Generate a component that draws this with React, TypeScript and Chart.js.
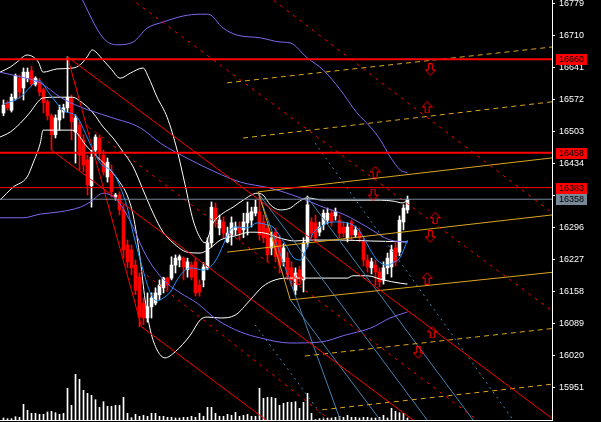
import React, { useEffect, useRef } from 'react';
import { Chart, registerables } from 'chart.js';
Chart.register(...registerables);

// ---- candles (index 0..101) ----
const candleOpen = [
  16544, 16566, 16550, 16576, 16619, 16598, 16619, 16635, 16606, 16611,
  16594, 16568, 16538, 16497, 16529, 16546, 16555, 16576, 16503, 16518,
  16486, 16443, 16387, 16464, 16490, 16453, 16406, 16417, 16363, 16367,
  16335, 16259, 16249, 16216, 16190, 16134, 16102, 16126, 16134, 16152,
  16167, 16188, 16188, 16216, 16227, 16231, 16206, 16216, 16223, 16173,
  16184, 16210, 16264, 16339, 16296, 16309, 16266, 16281, 16292, 16298,
  16292, 16307, 16313, 16328, 16331, 16309, 16296, 16253, 16287, 16270,
  16223, 16231, 16210, 16162, 16206, 16184, 16264, 16309, 16307, 16287,
  16303, 16313, 16328, 16322, 16313, 16298, 16275, 16309, 16281, 16287,
  16266, 16227, 16210, 16216, 16201, 16184, 16210, 16212, 16253, 16244,
  16309, 16335,
];
const candleHigh = [
  16572, 16570, 16585, 16628, 16626, 16641, 16641, 16645, 16622, 16619,
  16598, 16572, 16542, 16540, 16561, 16563, 16665, 16583, 16540, 16525,
  16497, 16453, 16464, 16497, 16497, 16464, 16447, 16432, 16371, 16374,
  16346, 16270, 16259, 16227, 16199, 16145, 16156, 16156, 16167, 16184,
  16190, 16190, 16234, 16238, 16238, 16234, 16231, 16223, 16231, 16184,
  16221, 16275, 16352, 16350, 16324, 16320, 16298, 16320, 16309, 16309,
  16328, 16352, 16341, 16356, 16367, 16324, 16303, 16287, 16296, 16279,
  16262, 16244, 16223, 16210, 16214, 16275, 16365, 16318, 16324, 16309,
  16335, 16339, 16335, 16339, 16324, 16309, 16307, 16313, 16300, 16296,
  16275, 16238, 16231, 16227, 16210, 16223, 16242, 16259, 16264, 16322,
  16346, 16365,
];
const candleLow = [
  16538, 16550, 16546, 16572, 16576, 16572, 16611, 16602, 16602, 16581,
  16544, 16529, 16464, 16490, 16507, 16533, 16546, 16486, 16436, 16421,
  16417, 16367, 16341, 16453, 16443, 16410, 16395, 16363, 16356, 16324,
  16231, 16210, 16195, 16152, 16083, 16087, 16093, 16102, 16130, 16141,
  16156, 16162, 16184, 16199, 16212, 16184, 16190, 16184, 16149, 16149,
  16169, 16206, 16255, 16298, 16281, 16275, 16264, 16259, 16281, 16270,
  16275, 16281, 16298, 16322, 16270, 16264, 16223, 16238, 16223, 16199,
  16214, 16184, 16173, 16152, 16180, 16158, 16255, 16275, 16266, 16279,
  16292, 16305, 16300, 16313, 16275, 16277, 16266, 16270, 16275, 16266,
  16214, 16201, 16197, 16173, 16169, 16175, 16197, 16190, 16214, 16236,
  16292, 16328,
];
const candleClose = [
  16561, 16555, 16578, 16624, 16589, 16632, 16632, 16606, 16619, 16589,
  16566, 16538, 16497, 16533, 16550, 16555, 16578, 16525, 16533, 16453,
  16432, 16389, 16449, 16492, 16458, 16417, 16438, 16374, 16367, 16335,
  16249, 16223, 16210, 16162, 16104, 16102, 16126, 16145, 16156, 16173,
  16188, 16173, 16216, 16231, 16234, 16212, 16223, 16190, 16156, 16158,
  16212, 16264, 16341, 16313, 16313, 16285, 16285, 16307, 16298, 16285,
  16309, 16328, 16331, 16341, 16281, 16275, 16238, 16275, 16234, 16216,
  16253, 16195, 16184, 16199, 16188, 16264, 16346, 16285, 16275, 16298,
  16328, 16328, 16309, 16331, 16285, 16285, 16298, 16281, 16292, 16275,
  16227, 16212, 16223, 16201, 16180, 16210, 16231, 16249, 16223, 16313,
  16339, 16358,
];
const volumes = [
  200, 130, 130, 330, 270, 1570, 970, 670, 670, 570,
  570, 800, 870, 730, 570, 670, 3170, 1470, 4570, 4070,
  2970, 2670, 2470, 2030, 1270, 1830, 1370, 1370, 1470, 1470,
  2270, 670, 230, 570, 370, 470, 370, 670, 670, 370,
  370, 270, 270, 200, 200, 270, 270, 370, 270, 670,
  370, 1270, 1270, 670, 370, 370, 570, 470, 770, 370,
  470, 570, 370, 370, 3170, 2170, 2270, 2270, 2170, 1470,
  1670, 1770, 1770, 1830, 1170, 1770, 2670, 670, 50, 130,
  130, 200, 200, 270, 370, 270, 470, 270, 270, 200,
  270, 270, 200, 200, 270, 470, 200, 1170, 870, 730,
  670, 200,
];

// ---- price axis ----
const priceTicks = [15951, 16020, 16089, 16158, 16227, 16296, 16365, 16434, 16503, 16572, 16641, 16710, 16779];
const redLevels = [16660, 16458, 16383];
const bidPrice = 16358;

// ---- indicator curves [index, price] ----
const maFast = [
  [0, 16563], [4.2, 16578], [6.7, 16600], [8.7, 16615], [11.7, 16583], [14.9, 16550], [18.4, 16535],
  [20.9, 16492], [22.4, 16464], [24.2, 16436], [27.4, 16415], [29.2, 16384], [30.9, 16341], [32.4, 16285],
  [34.9, 16205], [36.7, 16156], [38.4, 16139], [39.9, 16145], [41.7, 16158], [43.4, 16184], [44.9, 16201],
  [46.7, 16210], [48.4, 16208], [49.9, 16205], [51.7, 16212], [53.4, 16231], [54.9, 16259], [56.7, 16292],
  [58.4, 16298], [60.9, 16296], [63.4, 16307], [65.9, 16303], [67.4, 16298], [69.2, 16277], [70.9, 16255],
  [72.4, 16233], [74.2, 16227], [75.9, 16255], [77.4, 16285], [79.2, 16298], [80.9, 16307], [83.4, 16309],
  [85.9, 16307], [88.4, 16296], [89.9, 16277], [91.7, 16249], [93.4, 16227], [95.9, 16216], [97.4, 16221],
  [99.2, 16233], [101, 16270],
];
const bbSlowMid = [
  [-0.9, 16632], [4.2, 16622], [9.2, 16609], [14.2, 16578], [19.2, 16557], [26.7, 16535], [34.2, 16512],
  [39.2, 16479], [46.7, 16443], [52.9, 16417], [59.2, 16395], [66.7, 16382], [74.2, 16361], [79.9, 16341],
  [85.4, 16324], [90.9, 16298], [96.7, 16270], [101, 16266],
];
const bbSlowUpper = [
  [19, 16800], [24.9, 16706], [28.4, 16691], [32.4, 16697], [35.9, 16727], [39.9, 16740], [44.9, 16753],
  [49.2, 16757], [51.2, 16757], [54.9, 16727], [58.4, 16712], [64.2, 16706], [69.2, 16697], [71.7, 16695],
  [75.9, 16663], [79.9, 16637], [84.2, 16594], [88.4, 16544], [91.7, 16514], [94.2, 16486], [96.7, 16449],
  [99.2, 16421], [101, 16415],
];
const bbSlowLower = [
  [-0.9, 16318], [4.9, 16318], [9.2, 16326], [14.2, 16331], [19.2, 16341], [21.7, 16352], [24.9, 16371],
  [28.4, 16356], [32.4, 16298], [34.9, 16249], [37.4, 16212], [40.9, 16177], [44.2, 16156], [48.4, 16134],
  [53.4, 16098], [59.2, 16072], [64.2, 16059], [71.7, 16048], [79.2, 16050], [85.4, 16065], [91.7, 16080],
  [96.7, 16102], [101, 16115],
];
const bbUpper = [
  [-0.9, 16632], [1.7, 16643], [3.4, 16654], [5.9, 16669], [7.4, 16665], [8.7, 16654], [9.9, 16632],
  [13.4, 16639], [17.4, 16641], [19.2, 16648], [20.9, 16665], [22.2, 16680], [23.4, 16673], [24.9, 16658],
  [26.7, 16641], [29.2, 16619], [31.7, 16630], [34.9, 16641], [36.2, 16622], [38.4, 16578], [40.9, 16535],
  [43.4, 16464], [45.4, 16389], [47.4, 16313], [49.2, 16274], [50.4, 16264], [52.4, 16307], [54.9, 16328],
  [57.4, 16341], [59.9, 16356], [63.4, 16371], [64.9, 16367], [66.7, 16346], [69.2, 16335], [71.7, 16339],
  [73.4, 16350], [75.9, 16361], [79.9, 16356], [86.7, 16356], [90.9, 16356], [94.2, 16356], [97.4, 16354],
  [99.9, 16350], [101, 16358],
];
const bbMid = [
  [-0.9, 16492], [1.7, 16503], [4.2, 16522], [6.7, 16546], [8.4, 16566], [9.7, 16576], [13.4, 16578],
  [17.2, 16578], [19.7, 16566], [22.4, 16544], [24.9, 16514], [27.4, 16490], [29.9, 16460], [32.4, 16428],
  [34.9, 16378], [37.4, 16328], [39.9, 16287], [42.4, 16264], [45.9, 16244], [49.2, 16242], [51.7, 16253],
  [54.2, 16270], [57.9, 16279], [61.7, 16287], [65.4, 16285], [69.2, 16274], [72.9, 16268], [76.7, 16270],
  [84.2, 16270], [91.7, 16268], [101, 16266],
];
const bbLower = [
  [-0.9, 16356], [2.4, 16384], [5.9, 16406], [7.4, 16436], [9.2, 16479], [9.9, 16507], [13.4, 16507],
  [17.2, 16507], [20.9, 16471], [24.2, 16443], [26.7, 16421], [29.2, 16393], [30.9, 16367], [32.4, 16324],
  [34.2, 16227], [35.4, 16141], [36.7, 16076], [38.4, 16033], [40.4, 16016], [42.9, 16029], [46.7, 16065],
  [49.2, 16098], [50.9, 16104], [54.2, 16102], [57.9, 16108], [61.7, 16141], [64.7, 16169], [67.9, 16184],
  [71.7, 16188], [74.2, 16188], [85.9, 16188], [87.4, 16193], [90.9, 16193], [94.9, 16184], [99.2, 16177],
  [101, 16175],
];

// ---- trend objects [[index, price], [index, price]] ----
const redSolidLines = [
  [[16, 16665], [149, 15809]],
  [[16, 16665], [34.5, 16083]],
  [[34.5, 16083], [70, 15854]],
  [[12, 16464], [110, 15833]],
];
const redDashLines = [
  [[30, 16802], [140, 16099]],
  [[66, 16797], [140, 16310]],
  [[21.2, 16514], [125, 15839]],
  [[34.2, 16205], [85, 15859]],
];
const orangeDashLines = [
  [[55.9, 16609], [140, 16689]],
  [[59.9, 16490], [140, 16571]],
  [[75.4, 16020], [140, 16082]],
  [[79.7, 15904], [140, 15962]],
];
const orangeSolidLines = [
  [[63.7, 16374], [140, 16450]],
  [[55.9, 16244], [140, 16327]],
  [[71.7, 16141], [140, 16203]],
  [[63.7, 16374], [71.7, 16141]],
];
const blueSolidLines = [
  [[63.7, 16371], [108, 15858]],
  [[75.9, 16363], [120, 15852]],
  [[71.7, 16141], [96, 15861]],
  [[63.7, 16371], [86, 15839]],
];
const blueDashLines = [
  [[77.9, 16479], [130, 15851]],
  [[62.9, 16087], [84, 15841]],
];
const arrowsDown = [[106.7, 16637], [92.4, 16367], [106.7, 16277], [103.7, 16027]];
const arrowsUp = [[105.9, 16557], [92.9, 16417], [107.9, 16318], [105.9, 16188], [107.2, 16072], [73.7, 16188]];

const RED = '#ff0000';
const WHITE = '#ffffff';
const GRAY = '#778899';

function makeArrow(up: boolean): HTMLCanvasElement {
  const c = document.createElement('canvas');
  c.width = 11;
  c.height = 13;
  const g = c.getContext('2d')!;
  const pts = [[3.5, 0.5], [7.5, 0.5], [7.5, 6.5], [10.5, 6.5], [5.5, 12], [0.5, 6.5], [3.5, 6.5]];
  g.strokeStyle = RED;
  g.lineWidth = 1;
  g.beginPath();
  pts.forEach(([x, y], i) => {
    const yy = up ? 13 - y : y;
    if (i === 0) g.moveTo(x, yy);
    else g.lineTo(x, yy);
  });
  g.closePath();
  g.stroke();
  return c;
}

const toPts = (arr: number[][]) => arr.map(([x, y]) => ({ x, y }));

export default function App() {
  const ref = useRef<HTMLCanvasElement>(null);
  useEffect(() => {
    const canvas = ref.current!;
    const up = candleOpen.map((o, i) => candleClose[i] >= o);
    const colors = up.map((u) => (u ? WHITE : RED));

    const curve = (pts: number[][], color: string, order: number) => ({
      type: 'line' as const,
      data: toPts(pts),
      borderColor: color,
      borderWidth: 1,
      pointRadius: 0,
      fill: false,
      cubicInterpolationMode: 'monotone' as const,
      order,
    });
    const seg = (pair: number[][], color: string, dash: number[] | undefined, order: number, width = 1) => ({
      type: 'line' as const,
      data: toPts(pair),
      borderColor: color,
      borderWidth: width,
      borderDash: dash || [],
      pointRadius: 0,
      fill: false,
      order,
    });

    const datasets: any[] = [];
    datasets.push({
      type: 'line', data: toPts(arrowsDown), showLine: false, pointStyle: makeArrow(false), pointRadius: 5, order: 1,
    });
    datasets.push({
      type: 'line', data: toPts(arrowsUp), showLine: false, pointStyle: makeArrow(true), pointRadius: 5, order: 1,
    });
    redLevels.forEach((v, i) => datasets.push(seg([[-2, v], [140, v]], RED, undefined, 2, i < 2 ? 2 : 1)));
    datasets.push(seg([[-2, bidPrice], [140, bidPrice]], GRAY, undefined, 2, 1));
    redSolidLines.forEach((p) => datasets.push(seg(p, RED, undefined, 3)));
    redDashLines.forEach((p) => datasets.push(seg(p, RED, [3, 5], 3)));
    orangeDashLines.forEach((p) => datasets.push(seg(p, '#daa520', [5, 4], 3)));
    orangeSolidLines.forEach((p) => datasets.push(seg(p, '#daa520', undefined, 3)));
    blueSolidLines.forEach((p) => datasets.push(seg(p, '#4682b4', undefined, 3)));
    blueDashLines.forEach((p) => datasets.push(seg(p, '#4682b4', [2, 4], 3)));
    datasets.push(curve(maFast, '#1e90ff', 4));
    datasets.push(curve(bbSlowMid, '#7b68ee', 4));
    datasets.push(curve(bbSlowUpper, '#7b68ee', 4));
    datasets.push(curve(bbSlowLower, '#7b68ee', 4));
    datasets.push(curve(bbUpper, WHITE, 4));
    datasets.push(curve(bbMid, WHITE, 4));
    datasets.push(curve(bbLower, WHITE, 4));
    datasets.push({
      type: 'bar',
      data: candleOpen.map((o, i) => ({ x: i, y: [o, candleClose[i]] })),
      backgroundColor: colors,
      borderWidth: 0,
      barThickness: 3,
      minBarLength: 1,
      grouped: false,
      order: 6,
    });
    datasets.push({
      type: 'bar',
      data: candleLow.map((l, i) => ({ x: i, y: [l, candleHigh[i]] })),
      backgroundColor: colors,
      borderWidth: 0,
      barThickness: 1,
      grouped: false,
      order: 7,
    });
    datasets.push({
      type: 'bar',
      data: volumes.map((v, i) => ({ x: i, y: v })),
      backgroundColor: WHITE,
      borderWidth: 0,
      barThickness: 1,
      grouped: false,
      yAxisID: 'yv',
      order: 8,
    });

    const labelPlugin = {
      id: 'priceBoxes',
      afterDraw(chart: any) {
        const ys = chart.scales.y;
        const ctx = chart.ctx;
        const boxes = redLevels.map((v) => [v, RED] as [number, string]).concat([[bidPrice, GRAY]]);
        ctx.save();
        ctx.font = '9px "Liberation Sans", Arial, sans-serif';
        ctx.textBaseline = 'middle';
        ctx.textAlign = 'left';
        boxes.forEach(([v, col]) => {
          const py = Math.round(ys.getPixelForValue(v));
          ctx.fillStyle = col;
          ctx.fillRect(556, py - 5, 31, 11);
          ctx.fillStyle = '#000000';
          ctx.fillText(String(v), 559, py + 0.5);
        });
        ctx.restore();
      },
    };

    const chart = new Chart(canvas, {
      type: 'bar',
      data: { datasets },
      options: {
        animation: false,
        responsive: false,
        devicePixelRatio: 1,
        events: [],
        layout: { padding: 0, autoPadding: false },
        plugins: { legend: { display: false }, tooltip: { enabled: false } },
        scales: {
          x: {
            type: 'linear',
            min: -0.875,
            max: 137.125,
            offset: false,
            ticks: { display: false },
            grid: { display: false },
            border: { display: true, color: WHITE, width: 1 },
            afterFit: (s: any) => { s.height = 2; s.paddingLeft = 0; s.paddingRight = 0; },
          },
          y: {
            type: 'linear',
            position: 'right',
            min: 15882,
            max: 16787.6,
            afterBuildTicks: (s: any) => { s.ticks = priceTicks.map((v) => ({ value: v })); },
            afterFit: (s: any) => { s.width = 49; s.paddingTop = 0; s.paddingBottom = 0; },
            ticks: {
              color: WHITE,
              font: { family: '"Liberation Sans", Arial, sans-serif', size: 9 },
              padding: 4,
              callback: (v: any) => String(v),
            },
            grid: { display: true, drawOnChartArea: false, drawTicks: true, tickLength: 3, color: WHITE },
            border: { display: true, color: WHITE, width: 1 },
          },
          yv: {
            type: 'linear',
            display: false,
            min: 0,
            max: 42000,
          },
        },
      } as any,
      plugins: [labelPlugin],
    });
    return () => chart.destroy();
  }, []);

  return (
    <div style={{ position: 'fixed', left: 0, top: 0, width: 601, height: 422, background: '#000' }}>
      <canvas ref={ref} width={601} height={422} style={{ display: 'block' }} />
    </div>
  );
}
